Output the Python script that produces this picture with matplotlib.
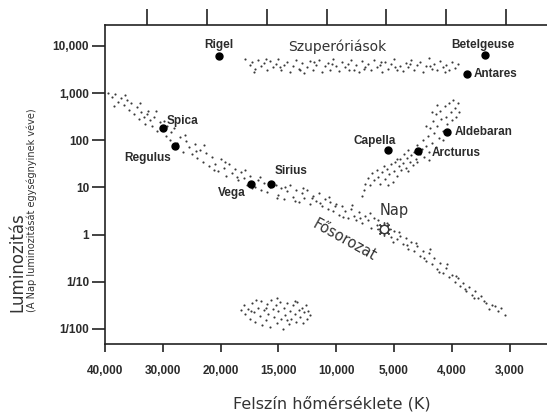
import matplotlib
matplotlib.use("Agg")
import matplotlib.pyplot as plt
import numpy as np

# bottom axis: equally spaced temperature ticks (index positions 0..7)
temp_labels = ["40,000", "30,000", "20,000", "15,000", "10,000", "5,000", "4,000", "3,000"]
lum_ticks = [1e4, 1e3, 100, 10, 1, 0.1, 0.01]
lum_labels = ["10,000", "1,000", "100", "10", "1", "1/10", "1/100"]
top_ticks = [0.72, 1.77, 2.81, 3.84, 4.86, 5.90, 6.94]

# named stars: x in tick-index units, luminosity in solar units
star_names = ["Rigel", "Betelgeuse", "Antares", "Spica", "Regulus",
              "Vega", "Sirius", "Capella", "Arcturus", "Aldebaran"]
star_x = [1.97, 6.57, 6.27, 1.00, 1.21, 2.53, 2.87, 4.89, 5.42, 5.91]
star_lum = [6200, 6400, 2500, 180, 74, 11.7, 12, 63, 60, 152]
sun_x = 4.83
sun_lum = 1.3

# main sequence dots (x, log10 L)
ms_x = [0.05, 0.12, 0.18, 0.22, 0.28, 0.32, 0.38, 0.42, 0.45, 0.5, 0.55, 0.58, 0.62, 0.68,
        0.7, 0.75, 0.78, 0.82, 0.85, 0.9, 0.95, 1.05, 1.08, 1.12, 1.15, 1.2, 1.25, 1.3,
        1.35, 1.4, 1.45, 1.5, 1.55, 1.6, 1.65, 1.7, 1.75, 1.8, 1.85, 1.9, 1.95, 2.0,
        2.05, 2.1, 2.15, 2.2, 2.25, 2.3, 2.35, 2.4, 2.45, 2.5, 2.6, 2.65, 2.7, 2.75,
        2.8, 2.95, 3.0, 3.05, 3.1, 3.15, 3.2, 3.25, 3.3, 3.35, 3.4, 3.45, 3.5, 3.55,
        3.6, 3.65, 3.7, 3.75, 3.8, 3.85, 3.9, 3.95, 4.0, 4.05, 4.1, 4.15, 4.2, 4.25,
        4.3, 4.35, 4.4, 4.45, 4.5, 4.55, 4.6, 4.65, 4.7, 4.75, 4.9, 4.95, 5.0, 5.05,
        5.1, 5.15, 5.2, 5.25, 5.3, 5.35, 5.4, 5.45, 5.5, 5.55, 5.6, 5.65, 5.7, 5.75,
        5.8, 5.85, 5.9, 5.95, 6.0, 6.05, 6.1, 6.15, 6.2, 6.25, 6.3, 6.35, 6.4, 6.45,
        6.5, 6.6, 6.7, 6.75, 6.85, 6.92,
        0.15, 0.35, 0.6, 0.72, 0.88, 1.02, 1.18, 1.38, 1.58, 1.72, 1.88, 2.08, 2.28,
        2.42, 2.55, 2.68, 2.85, 2.98, 3.12, 3.28, 3.42, 3.58, 3.72, 3.88, 3.98, 4.12,
        4.28, 4.42, 4.58, 4.72, 4.88, 4.98, 5.08, 5.22, 5.38, 5.52, 5.62, 5.78, 5.92,
        6.08, 6.22, 6.38, 6.55, 6.65, 6.8]
ms_logl = [3.0, 2.92, 2.98, 2.82, 2.9, 2.75, 2.85, 2.65, 2.78, 2.55, 2.7, 2.45, 2.6, 2.5,
           2.35, 2.62, 2.42, 2.3, 2.5, 2.2, 2.38, 2.1, 2.3, 2.0, 2.18, 2.25, 1.95, 2.08,
           1.75, 1.98, 1.85, 1.7, 1.92, 1.62, 1.8, 1.55, 1.72, 1.45, 1.65, 1.5, 1.35, 1.6,
           1.42, 1.25, 1.5, 1.3, 1.4, 1.15, 1.32, 1.2, 1.05, 1.25, 1.0, 1.15, 0.95, 1.1,
           0.9, 1.05, 0.85, 0.98, 0.75, 0.92, 1.05, 0.8, 0.95, 0.7, 0.88, 0.78, 0.95, 0.65,
           0.82, 0.72, 0.88, 0.6, 0.75, 0.55, 0.7, 0.5, 0.65, 0.42, 0.6, 0.5, 0.35, 0.55,
           0.4, 0.3, 0.48, 0.25, 0.4, 0.3, 0.15, 0.35, 0.2, 0.08, 0.1, -0.05, 0.08, -0.1,
           -0.02, -0.2, -0.08, -0.3, -0.15, -0.35, -0.25, -0.45, -0.35, -0.55, -0.4, -0.62, -0.5, -0.72,
           -0.6, -0.82, -0.7, -0.9, -0.85, -1.0, -0.92, -1.1, -1.02, -1.2, -1.12, -1.28, -1.2, -1.35,
           -1.3, -1.45, -1.5, -1.52, -1.55, -1.7,
           2.72, 2.95, 2.78, 2.55, 2.62, 2.4, 1.88, 2.12, 1.78, 1.9, 1.38, 1.55, 1.22,
           1.38, 0.98, 1.22, 1.0, 0.78, 1.0, 0.72, 0.98, 0.78, 0.68, 0.8, 0.6, 0.38,
           0.62, 0.35, 0.45, 0.3, 0.25, -0.15, 0.05, -0.22, -0.18, -0.5, -0.3, -0.8, -0.62,
           -0.88, -1.15, -1.35, -1.4, -1.58, -1.62]

# supergiants
sg_x = [2.42, 2.5, 2.55, 2.6, 2.65, 2.7, 2.75, 2.8, 2.85, 2.9, 2.95, 3.0, 3.05, 3.1,
        3.15, 3.2, 3.25, 3.3, 3.35, 3.4, 3.45, 3.5, 3.55, 3.6, 3.65, 3.7, 3.75, 3.8,
        3.85, 3.9, 3.95, 4.0, 4.05, 4.1, 4.15, 4.2, 4.25, 4.3, 4.35, 4.4, 4.45, 4.5,
        4.55, 4.6, 4.65, 4.7, 4.75, 4.8, 4.85, 4.9, 4.95, 5.0, 5.05, 5.1, 5.15, 5.2,
        5.25, 5.3, 5.35, 5.4, 5.45, 5.5, 5.55, 5.6, 5.65, 5.7, 5.75, 5.8, 5.85, 5.9,
        5.95, 6.0, 6.05, 6.1, 2.58, 2.78, 3.02, 3.38, 3.62, 3.92, 4.22, 4.48, 4.78,
        5.02, 5.28, 5.62, 5.88]
sg_logl = [3.72, 3.6, 3.66, 3.52, 3.7, 3.58, 3.63, 3.48, 3.68, 3.55, 3.62, 3.72, 3.5, 3.6,
           3.66, 3.45, 3.58, 3.7, 3.52, 3.63, 3.42, 3.56, 3.68, 3.48, 3.6, 3.7, 3.45, 3.57,
           3.64, 3.5, 3.72, 3.58, 3.46, 3.66, 3.55, 3.62, 3.7, 3.5, 3.6, 3.45, 3.68, 3.56,
           3.62, 3.48, 3.7, 3.55, 3.6, 3.44, 3.66, 3.52, 3.62, 3.72, 3.5, 3.58, 3.46, 3.64,
           3.55, 3.7, 3.5, 3.6, 3.67, 3.45, 3.57, 3.74, 3.52, 3.62, 3.48, 3.68, 3.56, 3.6,
           3.5, 3.66, 3.54, 3.62, 3.45, 3.72, 3.55, 3.48, 3.66, 3.62, 3.48, 3.52, 3.66,
           3.55, 3.62, 3.58, 3.45]

# giant branch
gi_x = [4.45, 4.48, 4.5, 4.55, 4.58, 4.62, 4.65, 4.7, 4.72, 4.75, 4.8, 4.82, 4.85, 4.88,
        4.92, 4.95, 4.98, 5.0, 5.02, 5.05, 5.08, 5.1, 5.12, 5.15, 5.18, 5.2, 5.22, 5.25,
        5.28, 5.3, 5.32, 5.35, 5.38, 5.4, 5.45, 5.48, 5.5, 5.52, 5.55, 5.58, 5.6, 5.62,
        5.65, 5.68, 5.7, 5.72, 5.75, 5.78, 5.8, 5.82, 5.85, 5.88, 5.9, 5.92, 5.95, 5.98,
        6.0, 6.02, 6.05, 6.08, 6.1, 6.12, 5.55, 5.65, 5.75, 5.4, 5.25, 5.05, 4.9, 5.6,
        5.72, 5.85]
gi_logl = [0.82, 0.95, 1.08, 1.2, 1.05, 1.3, 1.15, 1.38, 1.22, 1.08, 1.32, 1.45, 1.18, 1.4,
           1.28, 1.5, 1.12, 1.35, 1.55, 1.25, 1.45, 1.6, 1.38, 1.52, 1.7, 1.42, 1.62, 1.8,
           1.55, 1.68, 1.48, 1.75, 1.6, 1.9, 1.7, 1.82, 2.0, 1.65, 1.88, 2.1, 1.75, 2.25,
           1.95, 2.4, 2.15, 2.55, 2.3, 2.05, 2.62, 2.45, 2.2, 2.72, 2.5, 2.35, 2.8, 2.6,
           2.42, 2.85, 2.68, 2.5, 2.78, 2.6, 2.3, 2.6, 2.75, 1.55, 1.35, 1.6, 1.05, 1.58,
           1.85, 2.0]

# white dwarfs
wd_x = [2.35, 2.4, 2.42, 2.48, 2.5, 2.55, 2.58, 2.6, 2.65, 2.68, 2.7, 2.72, 2.75, 2.78,
        2.8, 2.82, 2.85, 2.88, 2.9, 2.92, 2.95, 2.98, 3.0, 3.02, 3.05, 3.08, 3.1, 3.12,
        3.15, 3.18, 3.2, 3.22, 3.25, 3.28, 3.3, 3.32, 3.35, 3.38, 3.4, 3.42, 3.45, 3.48,
        3.5, 3.52, 3.55, 2.62, 2.98, 3.28, 2.52, 2.78, 3.15]
wd_logl = [-1.6, -1.5, -1.68, -1.58, -1.78, -1.45, -1.65, -1.85, -1.55, -1.72, -1.4, -1.92,
           -1.6, -1.8, -1.48, -1.68, -1.95, -1.38, -1.58, -1.75, -1.5, -1.88, -1.62, -1.42,
           -1.78, -2.0, -1.55, -1.7, -1.45, -1.9, -1.62, -1.78, -1.5, -1.68, -1.85, -1.42,
           -1.6, -1.75, -1.55, -1.88, -1.65, -1.5, -1.78, -1.62, -1.7, -1.38, -1.35, -1.4,
           -1.62, -1.55, -1.82]

# label offsets in points relative to each star
label_offsets = {
    "Rigel": ((0, 8), "center"),
    "Betelgeuse": ((-1.5, 7.5), "center"),
    "Antares": ((4.3, 0), "left"),
    "Spica": ((2.4, 5), "left"),
    "Regulus": ((-20, -8.5), "center"),
    "Vega": ((-14, -6), "center"),
    "Sirius": ((14.4, 9.4), "center"),
    "Capella": ((-9, 6.5), "center"),
    "Arcturus": ((9.5, -1.4), "left"),
    "Aldebaran": ((6, 0), "left"),
}

ink = "#222222"
label_font = dict(family="Liberation Sans", fontsize=8.5, fontweight="bold", color="#2b2b2b")
soft_font = dict(family="DejaVu Sans", color="#333333")

fig = plt.figure(figsize=(5.47, 4.16), dpi=100)
ax = fig.add_axes([0.192, 0.173, 0.808, 0.767])

dot_style = dict(s=2.4, color="#3a3a3a", linewidths=0)
ax.scatter(ms_x, 10 ** np.array(ms_logl), **dot_style)
ax.scatter(sg_x, 10 ** np.array(sg_logl), **dot_style)
ax.scatter(gi_x, 10 ** np.array(gi_logl), **dot_style)
ax.scatter(wd_x, 10 ** np.array(wd_logl), **dot_style)

ax.plot(star_x, star_lum, "o", color="black", markersize=5, linestyle="none")
for name, x, lum in zip(star_names, star_x, star_lum):
    offset, ha = label_offsets[name]
    ax.annotate(name, (x, lum), xytext=offset, textcoords="offset points",
                ha=ha, va="center", **label_font)

# the Sun
ax.plot(sun_x, sun_lum, marker=(8, 2, 0), markersize=10, color="#444444", markeredgewidth=1.0)
ax.plot(sun_x, sun_lum, "o", markersize=6, markerfacecolor="white",
        markeredgecolor="#333333", markeredgewidth=1.0)
ax.annotate("Nap", (sun_x, sun_lum), xytext=(7.2, 13.7), textcoords="offset points",
            ha="center", va="center", fontsize=10.5, **soft_font)

ax.text(4.01, 10 ** 3.98, "Szuperóriások", ha="center", va="center", fontsize=10, **soft_font)
ax.text(4.15, 10 ** -0.11, "Fősorozat", ha="center", va="center", rotation=-29,
        fontsize=10.5, **soft_font)

ax.set_yscale("log")
ax.set_xlim(0, 7.647)
ax.set_ylim(10 ** -2.32, 10 ** 4.445)
ax.set_xticks(range(len(temp_labels)), labels=temp_labels)
ax.set_yticks(lum_ticks, labels=lum_labels)
ax.minorticks_off()
ax.tick_params(axis="x", direction="out", length=6, width=1.2, pad=9, colors=ink,
               labelsize=8.5)
ax.tick_params(axis="y", direction="out", length=9.5, width=1.2, pad=2, colors=ink,
               labelsize=8.5)
for lab in ax.get_xticklabels() + ax.get_yticklabels():
    lab.set_fontfamily("Liberation Sans")
    lab.set_fontweight("bold")
    lab.set_color("#2b2b2b")

top = ax.secondary_xaxis("top")
top.set_xticks(top_ticks, labels=[])
top.tick_params(direction="out", length=11.5, width=1.2, colors=ink)
top.spines["top"].set_visible(False)

ax.spines["right"].set_visible(False)
for side in ("left", "bottom", "top"):
    ax.spines[side].set_linewidth(1.2)
    ax.spines[side].set_color(ink)

fig.text(332 / 547, 1 - 404 / 416, "Felszín hőmérséklete (K)", ha="center", va="center",
         fontsize=11.5, **soft_font)
fig.text(17 / 547, 1 - 312 / 416, "Luminozitás", rotation=90, rotation_mode="anchor",
         ha="left", va="center", fontsize=12, **soft_font)
fig.text(31.5 / 547, 1 - 312 / 416, "(A Nap luminozitását egységnyinek véve)", rotation=90,
         rotation_mode="anchor", ha="left", va="center", fontsize=7, **soft_font)

fig.savefig("out.png", dpi=100)
